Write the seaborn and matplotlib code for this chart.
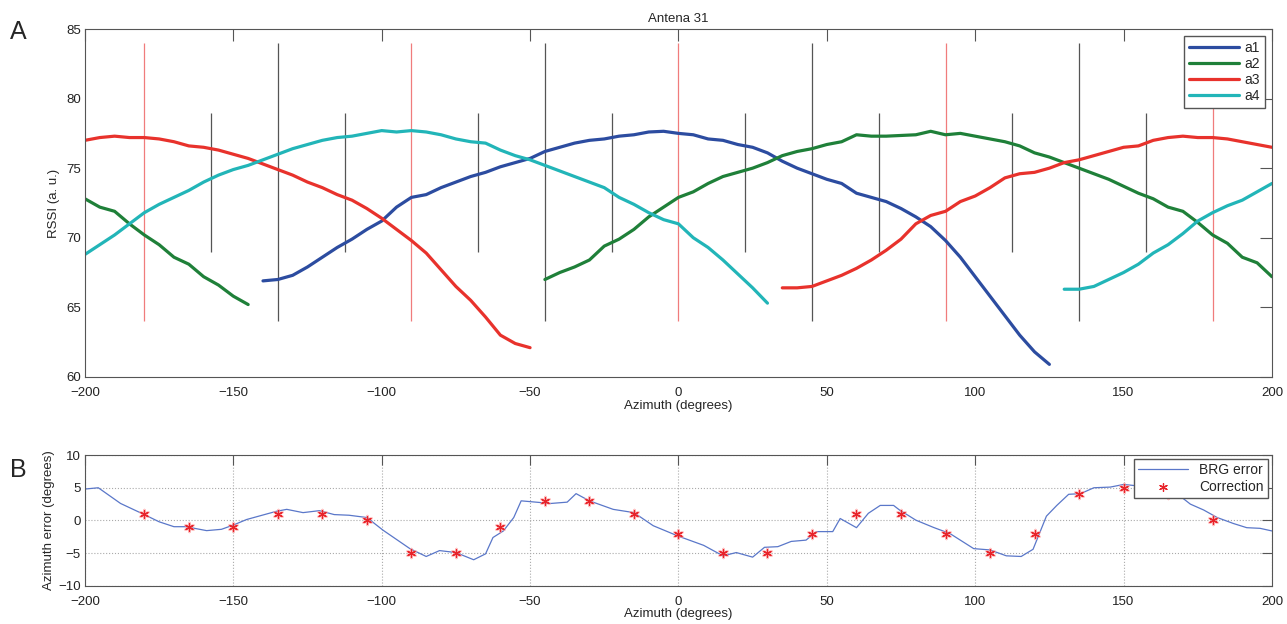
import numpy as np
import pandas as pd
import seaborn as sns
import matplotlib
matplotlib.use('Agg')
import matplotlib.pyplot as plt

# ---------------------------------------------------------------------------
# Dados lidos do gráfico (RSSI por antena, a cada 5 graus; NaN = sem medida)
nan = np.nan
azimute = np.arange(-200, 205, 5)

a1 = [nan] * 12 + [
    66.9, 67.0, 67.3, 67.9, 68.6, 69.3, 69.9, 70.6, 71.2, 72.2,
    72.9, 73.1, 73.6, 74.0, 74.4, 74.7, 75.1, 75.4, 75.7, 76.2,
    76.5, 76.8, 77.0, 77.1, 77.3, 77.4, 77.6, 77.65, 77.5, 77.4,
    77.1, 77.0, 76.7, 76.5, 76.1, 75.5, 75.0, 74.6, 74.2, 73.9,
    73.2, 72.9, 72.6, 72.1, 71.5, 70.8, 69.8, 68.6, 67.2, 65.8,
    64.4, 63.0, 61.8, 60.9,
] + [nan] * 15

a2 = [
    72.8, 72.2, 71.9, 71.0, 70.2, 69.5, 68.6, 68.1, 67.2, 66.6,
    65.8, 65.2,
] + [nan] * 19 + [
    67.0, 67.5, 67.9, 68.4, 69.4, 69.9, 70.6, 71.5, 72.2, 72.9,
    73.3, 73.9, 74.4, 74.7, 75.0, 75.4, 75.9, 76.2, 76.4, 76.7,
    76.9, 77.4, 77.3, 77.3, 77.35, 77.4, 77.65, 77.4, 77.5, 77.3,
    77.1, 76.9, 76.6, 76.1, 75.8, 75.4, 75.0, 74.6, 74.2, 73.7,
    73.2, 72.8, 72.2, 71.9, 71.1, 70.2, 69.6, 68.6, 68.2, 67.2,
]

a3 = [
    77.0, 77.2, 77.3, 77.2, 77.2, 77.1, 76.9, 76.6, 76.5, 76.3,
    76.0, 75.7, 75.3, 74.9, 74.5, 74.0, 73.6, 73.1, 72.7, 72.1,
    71.4, 70.6, 69.8, 68.9, 67.7, 66.5, 65.5, 64.3, 63.0, 62.4,
    62.1,
] + [nan] * 16 + [
    66.4, 66.4, 66.5, 66.9, 67.3, 67.8, 68.4, 69.1, 69.9, 71.0,
    71.6, 71.9, 72.6, 73.0, 73.6, 74.3, 74.6, 74.7, 75.0, 75.4,
    75.6, 75.9, 76.2, 76.5, 76.6, 77.0, 77.2, 77.3, 77.2, 77.2,
    77.1, 76.9, 76.7, 76.5,
]

a4 = [
    68.8, 69.5, 70.2, 71.0, 71.8, 72.4, 72.9, 73.4, 74.0, 74.5,
    74.9, 75.2, 75.6, 76.0, 76.4, 76.7, 77.0, 77.2, 77.3, 77.5,
    77.7, 77.6, 77.7, 77.6, 77.4, 77.1, 76.9, 76.8, 76.3, 75.9,
    75.6, 75.2, 74.8, 74.4, 74.0, 73.6, 72.9, 72.4, 71.8, 71.3,
    71.0, 70.0, 69.3, 68.4, 67.4, 66.4, 65.3,
] + [nan] * 19 + [
    66.3, 66.3, 66.5, 67.0, 67.5, 68.1, 68.9, 69.5, 70.3, 71.2,
    71.8, 72.3, 72.7, 73.3, 73.9,
]

# Linhas de referência verticais
ref_vermelho = [-180, -90, 0, 90, 180]
ref_longo = [-135, -45, 45, 135]
ref_curto = [-157.5, -112.5, -67.5, -22.5, 22.5, 67.5, 112.5, 157.5]

# Erro de azimute (BRG error) e pontos de correção
brg_az = [
    -200, -195.5, -188, -180, -175, -170, -166, -159, -154, -150,
    -145.5, -135.5, -132, -126.5, -121, -116, -111, -105, -99.5, -90.5,
    -85, -80.5, -75, -69, -65, -62.5, -59, -55.5, -53, -48,
    -43, -37.5, -34.5, -30, -22, -15, -8.5, 0, 8.5, 15,
    19.5, 25, 29, 33.5, 38, 43, 46.5, 52, 54.5, 60,
    64, 68, 72.5, 74.5, 80, 86, 91.5, 99.5, 105, 110.5,
    115.5, 119.5, 124, 127.5, 131.5, 135.5, 140, 145.5, 150, 154.5,
    160, 163.5, 168, 172.5, 177, 181.5, 187, 191.5, 196, 200,
]
brg_err = [
    4.8, 5.0, 2.6, 0.9, -0.2, -0.95, -0.95, -1.55, -1.35, -0.7,
    0.15, 1.4, 1.7, 1.2, 1.5, 0.9, 0.8, 0.45, -1.5, -4.3,
    -5.5, -4.6, -4.9, -6.0, -5.1, -2.6, -1.6, 0.45, 3.0, 2.8,
    2.6, 2.8, 4.1, 3.0, 1.7, 1.2, -0.8, -2.4, -3.8, -5.4,
    -4.9, -5.6, -4.1, -4.0, -3.2, -3.0, -1.7, -1.7, 0.3, -1.1,
    1.1, 2.3, 2.3, 1.6, 0.05, -1.07, -2.0, -4.3, -4.5, -5.4,
    -5.5, -4.4, 0.66, 2.3, 4.0, 4.1, 5.0, 5.1, 5.5, 5.3,
    4.5, 4.5, 4.1, 2.5, 1.6, 0.46, -0.46, -1.1, -1.2, -1.6,
]
corr_az = [-180, -165, -150, -135, -120, -105, -90, -75, -60, -45, -30, -15, 0,
           15, 30, 45, 60, 75, 90, 105, 120, 135, 150, 165, 180]
corr_err = [1, -1, -1, 1, 1, 0, -5, -5, -1, 3, 3, 1, -2,
            -5, -5, -2, 1, 1, -2, -5, -2, 4, 5, 4, 0]

cores = {'a1': '#2c4ca0', 'a2': '#1f8039', 'a3': '#e8322c', 'a4': '#22b5b8'}
rotulos_x = ['\u2212200', '\u2212150', '\u2212100', '\u221250',
             '0', '50', '100', '150', '200']

# ---------------------------------------------------------------------------
# Formato longo; cada trecho contínuo vira uma "unidade" para não ligar lacunas
partes = []
for nome, vals in [('a1', a1), ('a2', a2), ('a3', a3), ('a4', a4)]:
    d = pd.DataFrame({'az': azimute, 'rssi': vals, 'antena': nome})
    d['seg'] = nome + d['rssi'].isna().cumsum().astype(str)
    partes.append(d.dropna())
rssi = pd.concat(partes, ignore_index=True)

sns.set_style('white')
plt.rcParams['font.family'] = ['Liberation Sans', 'DejaVu Sans']
plt.rcParams['font.size'] = 9.5
plt.rcParams['axes.edgecolor'] = '#555555'
plt.rcParams['axes.linewidth'] = 0.8

fig = plt.figure(figsize=(12.87, 6.24), dpi=100)
ax1 = fig.add_axes([0.066, 0.396, 0.9223, 0.5575])
ax2 = fig.add_axes([0.066, 0.061, 0.9223, 0.2098])

# Painel A
ax1.vlines(ref_vermelho, 64, 84, color='#f07c7c', lw=0.9)
ax1.vlines(ref_longo, 64, 84, color='#555555', lw=0.9)
ax1.vlines(ref_curto, 69, 79, color='#555555', lw=0.9)
sns.lineplot(
    data=rssi, x='az', y='rssi', hue='antena', units='seg',
    estimator=None, palette=cores, lw=2.3, ax=ax1,
)
ax1.set_xlim(-200, 200)
ax1.set_ylim(60, 85)
ax1.set_xticks(range(-200, 201, 50))
ax1.set_yticks(range(60, 86, 5))
ax1.set_xticklabels(rotulos_x)
ax1.tick_params(direction='in', top=True, right=True, length=8.5,
                width=0.8, color='#555555', labelcolor='#222222', pad=3)
ax1.tick_params(axis='x', pad=7)
ax1.set_xlabel('Azimuth (degrees)', labelpad=1)
ax1.set_ylabel('RSSI (a. u.)', labelpad=4)
ax1.set_title('Antena 31', fontsize=9.5, pad=5)
sns.move_legend(ax1, 'upper right', title=None, frameon=True, fancybox=False,
                edgecolor='#555555', framealpha=1, handlelength=3.6,
                handletextpad=0.4, labelspacing=0.15, borderpad=0.35,
                borderaxespad=0.5, fontsize=10)

# Painel B
sns.lineplot(x=brg_az, y=brg_err, color='#5a77c9', lw=0.9,
             label='BRG error', ax=ax2)
sns.scatterplot(x=corr_az, y=corr_err, marker=(6, 2, 0), s=40,
                color='#ff9a9a', edgecolor='#ff9a9a', linewidth=2.0,
                alpha=0.55, ax=ax2, zorder=3)
sns.scatterplot(x=corr_az, y=corr_err, marker=(6, 2, 0), s=32,
                color='#e8232a', edgecolor='#e8232a', linewidth=0.9,
                label='Correction', ax=ax2, zorder=4)
ax2.set_xlim(-200, 200)
ax2.set_ylim(-10, 10)
ax2.set_xticks(range(-200, 201, 50))
ax2.set_yticks(range(-10, 11, 5))
ax2.set_xticklabels(rotulos_x)
ax2.set_yticklabels(['\u221210', '\u22125', '0', '5', '10'])
ax2.grid(True, ls=':', color='#aaaaaa', lw=0.8)
ax2.tick_params(direction='in', top=True, right=True, length=7,
                width=0.8, color='#555555', labelcolor='#222222', pad=3)
ax2.tick_params(axis='x', pad=7)
ax2.set_xlabel('Azimuth (degrees)', labelpad=0)
ax2.set_ylabel('Azimuth error (degrees)', labelpad=2)
ax2.legend(loc='upper right', frameon=True, fancybox=False,
           edgecolor='#555555', framealpha=1, handlelength=3.6,
           borderaxespad=0.3, labelspacing=0.2, borderpad=0.3, fontsize=10)

fig.text(0.008, 0.948, 'A', fontsize=18, va='center')
fig.text(0.008, 0.247, 'B', fontsize=18, va='center')

fig.savefig('out.png', dpi=100)
